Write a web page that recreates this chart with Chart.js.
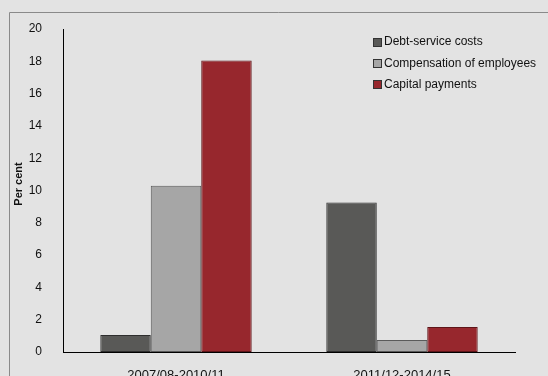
<!DOCTYPE html>
<html>
<head>
<meta charset="utf-8">
<script src="https://cdn.jsdelivr.net/npm/chart.js@4.4.0/dist/chart.umd.min.js"></script>
<style>
  html, body { margin: 0; padding: 0; background: #e3e3e3; }
  #chart { display: block; }
</style>
</head>
<body>
<canvas id="chart" width="548" height="376"></canvas>
<script>
var categories = ['2007/08-2010/11', '2011/12-2014/15'];
var seriesNames = ['Debt-service costs', 'Compensation of employees', 'Capital payments'];
var debtService = [1.05, 9.25];
var compensation = [10.3, 0.75];
var capitalPayments = [18.05, 1.55];
var yTicks = [0, 2, 4, 6, 8, 10, 12, 14, 16, 18, 20];

var fills = ['#595957', '#a6a6a6', '#97272d'];
var borders = ['#2e2e2e', '#5a5a5a', '#5e1519'];

// background + frame lines
var framePlugin = {
    id: 'frame',
    beforeDraw: function(chart){
        var ctx = chart.ctx;
        ctx.save();
        ctx.fillStyle = '#e3e3e3';
        ctx.fillRect(0, 0, chart.width, chart.height);
        ctx.strokeStyle = '#8a8a8a';
        ctx.lineWidth = 1;
        ctx.beginPath();
        ctx.moveTo(9.5, chart.height);
        ctx.lineTo(9.5, 12.5);
        ctx.lineTo(chart.width, 12.5);
        ctx.stroke();
        ctx.restore();
    }
};

// legend inside plot + y title
var legendPlugin = {
    id: 'insideLegend',
    afterDraw: function(chart){
        var ctx = chart.ctx;
        ctx.save();
        ctx.font = '12px "Liberation Sans", Arial, sans-serif';
        ctx.textBaseline = 'middle';
        chart.data.datasets.forEach(function(ds, i){
            var y = 42 + i * 21.3;
            ctx.fillStyle = ds.backgroundColor;
            ctx.fillRect(373, Math.round(y - 4.5), 9, 9);
            ctx.strokeStyle = '#333333';
            ctx.lineWidth = 1;
            ctx.strokeRect(373.5, Math.round(y - 4.5) + 0.5, 8, 8);
            ctx.fillStyle = '#111111';
            ctx.fillText(ds.label, 384, y);
        });

        ctx.translate(19, 184);
        ctx.rotate(-Math.PI / 2);
        ctx.font = 'bold 11px "Liberation Sans", Arial, sans-serif';
        ctx.textAlign = 'center';
        ctx.fillStyle = '#111111';
        ctx.fillText('Per cent', 0, 0);
        ctx.restore();
    }
};

var datasets = [debtService, compensation, capitalPayments].map(function(vals, i){
    return {
        label: seriesNames[i],
        data: vals,
        backgroundColor: fills[i],
        borderColor: borders[i],
        borderWidth: 1,
        borderSkipped: false,
        categoryPercentage: 0.67,
        barPercentage: 1.0
    };
});

var chart = new Chart(document.getElementById('chart').getContext('2d'), {
    type: 'bar',
    data: {
        labels: categories,
        datasets: datasets
    },
    options: {
        responsive: false,
        animation: false,
        devicePixelRatio: 1,
        layout: { padding: { top: 29, right: 33, left: 0, bottom: 0 } },
        plugins: {
            legend: { display: false },
            tooltip: { enabled: false }
        },
        scales: {
            x: {
                grid: { display: false },
                border: { display: true, color: '#000000', width: 1 },
                ticks: {
                    color: '#111111',
                    font: { family: '"Liberation Sans", Arial, sans-serif', size: 13 },
                    padding: 8,
                    maxRotation: 0
                },
                afterFit: function(scale){ scale.height = 24; }
            },
            y: {
                min: 0,
                max: 20,
                grid: { display: false },
                border: { display: true, color: '#000000', width: 1 },
                afterBuildTicks: function(scale){
                    scale.ticks = yTicks.map(function(v){ return { value: v }; });
                },
                ticks: {
                    color: '#111111',
                    font: { family: '"Liberation Sans", Arial, sans-serif', size: 12 },
                    padding: 13
                },
                afterFit: function(scale){ scale.width = 63; }
            }
        }
    },
    plugins: [framePlugin, legendPlugin]
});
</script>
</body>
</html>
